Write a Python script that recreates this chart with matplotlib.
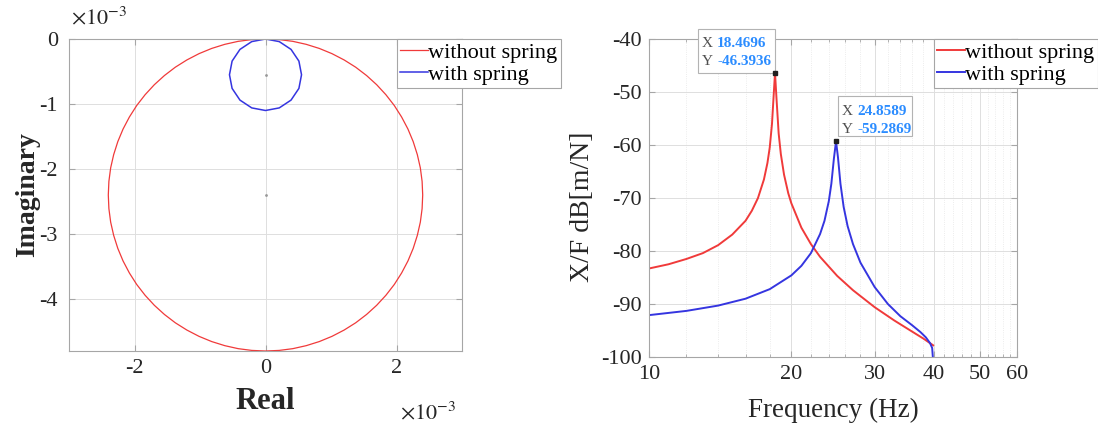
import matplotlib
matplotlib.use('Agg')
import matplotlib.pyplot as plt
import numpy as np
from matplotlib.ticker import FuncFormatter, FixedLocator, NullFormatter
from matplotlib.patches import Rectangle
from matplotlib.transforms import ScaledTranslation

plt.rcParams['font.family'] = ['Liberation Serif', 'DejaVu Serif']
plt.rcParams['mathtext.fontset'] = 'stix'
plt.rcParams['axes.unicode_minus'] = False

# Nyquist plot, values in 1e-3 m/N
red_re = [0, 0.209, 0.417, 0.621, 0.821, 1.014, 1.2, 1.377, 1.543, 1.697, 1.838, 1.966, 2.078,
          2.175, 2.255, 2.318, 2.364, 2.391, 2.4, 2.391, 2.364, 2.318, 2.255, 2.175, 2.078, 1.966,
          1.838, 1.697, 1.543, 1.377, 1.2, 1.014, 0.821, 0.621, 0.417, 0.209, 0,
          -0.209, -0.417, -0.621, -0.821, -1.014, -1.2, -1.377, -1.543, -1.697, -1.838, -1.966,
          -2.078, -2.175, -2.255, -2.318, -2.364, -2.391, -2.4, -2.391, -2.364, -2.318, -2.255,
          -2.175, -2.078, -1.966, -1.838, -1.697, -1.543, -1.377, -1.2, -1.014, -0.821, -0.621,
          -0.417, -0.209, 0]
red_im = [0, -0.009, -0.036, -0.082, -0.145, -0.225, -0.322, -0.434, -0.562, -0.703, -0.857,
          -1.023, -1.2, -1.386, -1.579, -1.779, -1.983, -2.191, -2.4, -2.609, -2.817, -3.021,
          -3.221, -3.414, -3.6, -3.777, -3.943, -4.097, -4.238, -4.366, -4.478, -4.575, -4.655,
          -4.718, -4.764, -4.791, -4.8,
          -4.791, -4.764, -4.718, -4.655, -4.575, -4.478, -4.366, -4.238, -4.097, -3.943, -3.777,
          -3.6, -3.414, -3.221, -3.021, -2.817, -2.609, -2.4, -2.191, -1.983, -1.779, -1.579,
          -1.386, -1.2, -1.023, -0.857, -0.703, -0.562, -0.434, -0.322, -0.225, -0.145, -0.082,
          -0.036, -0.009, 0]
blue_re = [0, 0.21, 0.39, 0.51, 0.55, 0.51, 0.39, 0.21, 0, -0.21, -0.39, -0.51, -0.55, -0.51, -0.39, -0.21, 0]
blue_im = [0, -0.04, -0.16, -0.34, -0.55, -0.76, -0.94, -1.06, -1.1, -1.06, -0.94, -0.76, -0.55, -0.34, -0.16, -0.04, 0]
centre_re = [0, 0]
centre_im = [-0.55, -2.4]

# FRF magnitude
freq_red = [10, 11, 12, 13, 14, 15, 16, 16.5, 17, 17.5, 17.8, 18.0, 18.2, 18.35, 18.4696, 18.6, 18.8,
            19.0, 19.3, 19.7, 20, 21, 22, 23, 25, 27, 30, 33, 36, 38, 39.9]
db_red = [-83.3, -82.5, -81.5, -80.4, -78.9, -76.9, -74.3, -72.4, -70.0, -66.5, -63.4, -60.5, -56.0,
          -50.6, -46.3936, -51.1, -57.8, -61.7, -65.6, -69.1, -71.0, -75.6, -78.7, -81.1, -84.7,
          -87.4, -90.6, -93.1, -95.2, -96.5, -97.8]
freq_blue = [10, 12, 14, 16, 18, 20, 21, 22, 23, 23.5, 24.0, 24.3, 24.6, 24.8589, 25.1, 25.4, 25.8,
             26.3, 27, 28, 30, 32, 34, 36, 37.5, 38.5, 39.3, 39.7, 39.9]
db_blue = [-92.1, -91.3, -90.3, -89.0, -87.2, -84.6, -82.8, -80.4, -76.8, -74.3, -70.6, -67.3, -62.6,
           -59.2869, -62.4, -67.3, -71.7, -75.3, -78.7, -82.2, -86.8, -90.0, -92.3, -94.0, -95.3,
           -96.3, -97.4, -98.3, -101.0]

labels = ['without spring', 'with spring']
RED = '#f03a3a'
BLUE = '#3535e0'
TXT = '#262626'
SPINE = '#a6a6a6'

fig = plt.figure(figsize=(10.98, 4.29), dpi=100)
W, H = 1098, 429
ax1 = fig.add_axes([69 / W, 1 - 351 / H, 393 / W, 312 / H])
ax2 = fig.add_axes([649 / W, 1 - 357 / H, 368 / W, 318 / H])


def style(ax, ypad):
    for s in ax.spines.values():
        s.set_color(SPINE)
        s.set_linewidth(0.8)
    ax.tick_params(which='both', direction='in', top=True, right=True, color=SPINE,
                   labelcolor=TXT, labelsize=16)
    ax.tick_params(which='major', length=4)
    ax.tick_params(which='minor', length=2)
    ax.tick_params(axis='x', pad=6)
    ax.tick_params(axis='y', pad=ypad)


# left: Nyquist
ax1.plot(np.array(red_re) * 1e-3, np.array(red_im) * 1e-3, color=RED, lw=0.9, label=labels[0])
ax1.plot(np.array(blue_re) * 1e-3, np.array(blue_im) * 1e-3, color=BLUE, lw=1.1, label=labels[1])
ax1.plot(np.array(centre_re) * 1e-3, np.array(centre_im) * 1e-3, '.', ms=2, color='#999999')
ax1.set_xlim(-3e-3, 3e-3)
ax1.set_ylim(-4.8e-3, 0)
ax1.set_xticks([-2e-3, 0, 2e-3])
ax1.set_yticks([-4e-3, -3e-3, -2e-3, -1e-3, 0])
milli = FuncFormatter(lambda v, p: '%d' % round(v * 1e3))
ax1.xaxis.set_major_formatter(milli)
ax1.yaxis.set_major_formatter(milli)
ax1.grid(True, color='#dedede', lw=0.7)
style(ax1, 8)
ax1.text(0.5, -0.163, 'Real', transform=ax1.transAxes, ha='center', va='center',
         fontsize=22, fontweight='bold', color=TXT)
ax1.text(-0.105, 0.5, 'Imaginary', transform=ax1.transAxes, ha='center', va='center',
         rotation=90, fontsize=20, fontweight='bold', color=TXT)
fig.text(71 / W, 1 - 18 / H, r'$\times10^{-3}$', ha='left', va='center', fontsize=16, color=TXT)
fig.text(400 / W, 1 - 413 / H, r'$\times10^{-3}$', ha='left', va='center', fontsize=16, color=TXT)

leg1 = ax1.legend(loc='upper left', bbox_to_anchor=(397 / W, 1 - 39 / H), bbox_transform=fig.transFigure,
                  fontsize=16, handlelength=1.25, handletextpad=0.0, borderpad=0.15,
                  labelspacing=0.05, borderaxespad=0, fancybox=False, framealpha=1,
                  edgecolor=SPINE)
leg1.get_frame().set_linewidth(0.8)

# right: FRF
ax2.semilogx(freq_red, db_red, color=RED, lw=1.4, label=labels[0])
ax2.semilogx(freq_blue, db_blue, color=BLUE, lw=1.4, label=labels[1])
ax2.set_xlim(10, 60)
ax2.set_ylim(-100, -40)
ax2.set_xticks([10, 20, 30, 40, 50, 60])
ax2.xaxis.set_major_formatter(FuncFormatter(lambda v, p: '%g' % v))
ax2.xaxis.set_minor_locator(FixedLocator([12, 14, 16, 18, 22, 24, 26, 28, 32, 34, 36, 38,
                                          42, 44, 46, 48, 52, 54, 56, 58]))
ax2.xaxis.set_minor_formatter(NullFormatter())
ax2.set_yticks(np.arange(-100, -39, 10))
ax2.grid(True, which='major', color='#dedede', lw=0.7)
ax2.grid(True, which='minor', color='#e6e6e6', lw=0.6, ls=':')
style(ax2, 5)
ax2.text(0.5, -0.167, 'Frequency (Hz)', transform=ax2.transAxes, ha='center', va='center',
         fontsize=19.5, color=TXT)
ax2.text(-0.182, 0.472, 'X/F dB[m/N]', transform=ax2.transAxes, ha='center', va='center',
         rotation=90, fontsize=20, color=TXT)

leg2 = ax2.legend(loc='upper left', bbox_to_anchor=(934 / W, 1 - 39 / H), bbox_transform=fig.transFigure,
                  fontsize=16, handlelength=1.25, handletextpad=0.0, borderpad=0.15,
                  labelspacing=0.05, borderaxespad=0, fancybox=False, framealpha=1,
                  edgecolor=SPINE)
leg2.get_frame().set_linewidth(0.8)


def datatip(ax, freq, db, dx, dy, w, h):
    i = int(np.argmax(db))
    fx, fy = freq[i], db[i]
    trans = fig.dpi_scale_trans + ScaledTranslation(fx, fy, ax.transData)
    px = 1.0 / fig.dpi
    ax.plot(fx, fy, 's', ms=2.5, color='#202020', zorder=7, clip_on=False)
    ax.add_patch(Rectangle((dx * px, dy * px), w * px, h * px, transform=trans, fc='white',
                           ec='#b3b3b3', lw=0.8, clip_on=False, zorder=6))
    for k, (name, val) in enumerate([('X', fx), ('Y', fy)]):
        yy = (dy + h - 15 - 18 * k) * px
        ax.text((dx + 4) * px, yy, name, transform=trans, ha='left', va='center',
                fontsize=11, color='#505050', zorder=7, clip_on=False)
        ax.text((dx + 19) * px, yy, '%.4f' % val, transform=trans, ha='left', va='center',
                fontsize=11, fontweight='bold', color='#2b8cff', zorder=7, clip_on=False)


datatip(ax2, freq_red, db_red, -77, 0, 77, 44)
datatip(ax2, freq_blue, db_blue, 2, 5, 74, 40)

fig.savefig('out.png', dpi=100)
